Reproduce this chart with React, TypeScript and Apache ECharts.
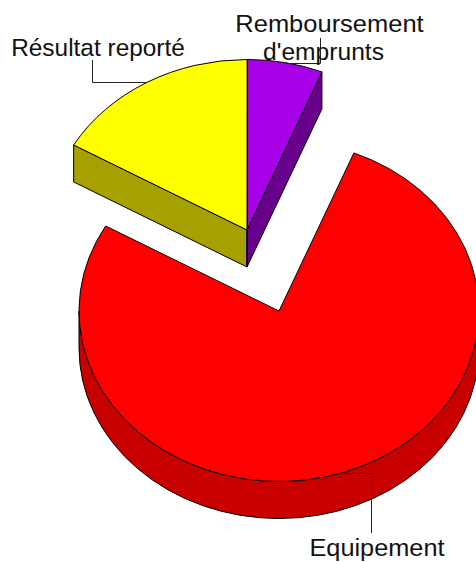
import React, { useEffect, useRef } from "react";
import * as echarts from "echarts";

const categories = ["Equipement", "Résultat reporté", "Remboursement\nd'emprunts"];
const values = [77.2, 16.7, 6.1];
const topColors = ["#ff0000", "#ffff00", "#a800e8"];
const sideColors = ["#c80000", "#a6a000", "#68008c"];

// Layout of the drawing (pixels)
const RX = 200;
const RY = 170.5;
const DEPTH = 37;
const START_ANGLE = 22; // degrees, clockwise from 12 o'clock; first slice starts here
const centres = [[279, 311], [247, 230], [247, 230]];
const leaders = [
  [[345, 473.5], [371.5, 473.5], [371.5, 533]],
  [[92.5, 60], [92.5, 82.5], [147, 82.5]],
  [[320.5, 38], [320.5, 63.5], [285, 63.5]],
];
const labelLines = [
  [{ x: 377, y: 560, sx: 1.055 }],
  [{ x: 98, y: 60, sx: 1.018 }],
  [{ x: 329.5, y: 36, sx: 1.062 }, { x: 323.5, y: 64, sx: 1.025 }],
];

const rad = (d: number) => (d * Math.PI) / 180;
const pt = (c: number[], a: number, dy = 0) => [
  c[0] + RX * Math.sin(rad(a)),
  c[1] - RY * Math.cos(rad(a)) + dy,
];
const arc = (c: number[], from: number, to: number, dy = 0) => {
  const [x, y] = pt(c, to, dy);
  const span = Math.abs(to - from);
  return `A${RX} ${RY} 0 ${span > 180 ? 1 : 0} ${to > from ? 1 : 0} ${x} ${y}`;
};

const spans = (() => {
  const total = values.reduce((a, b) => a + b, 0);
  let a = START_ANGLE;
  return values.map((v) => {
    const s = a;
    a += (v / total) * 360;
    return [s, a];
  });
})();

const style = (fill: string) => ({ fill, stroke: "#000", lineWidth: 1 });

function renderSlice(_: any, api: any) {
  const i = api.value(0) as number;
  const [a0, a1] = spans[i];
  const c = centres[i];
  const children: any[] = [];
  const wall = (d: string) =>
    children.push({ type: "path", shape: { pathData: d, layout: "none" } as any, style: style(sideColors[i]) });

  // Outer wall: visible only on the front half of the rim (90°..270°)
  const w0 = Math.max(a0, 90);
  const w1 = Math.min(a1, 270);
  if (w1 > w0) {
    const p = pt(c, w0);
    const q = pt(c, w1, DEPTH);
    wall(`M${p[0]} ${p[1]}${arc(c, w0, w1)}L${q[0]} ${q[1]}${arc(c, w1, w0, DEPTH)}Z`);
  }
  // Radial cut faces that look to the front
  [a0, a1].forEach((a) => {
    const n = ((a % 360) + 360) % 360;
    if (i !== 0) {
      const p = pt(c, n);
      const q = pt(c, n, DEPTH);
      wall(`M${c[0]} ${c[1]}L${p[0]} ${p[1]}L${q[0]} ${q[1]}L${c[0]} ${c[1] + DEPTH}Z`);
    }
  });
  // Top face
  const p = pt(c, a0);
  children.push({
    type: "path",
    shape: { pathData: `M${c[0]} ${c[1]}L${p[0]} ${p[1]}${arc(c, a0, a1)}Z` },
    style: style(topColors[i]),
  });
  return { type: "group", children };
}

export default function App() {
  const ref = useRef<HTMLDivElement>(null);
  useEffect(() => {
    document.body.style.margin = "0";
    const chart = echarts.init(ref.current!, null, { renderer: "svg" });
    const graphics: any[] = [];
    leaders.forEach((pts) =>
      graphics.push({
        type: "polyline",
        z: 10,
        shape: { points: pts },
        style: { fill: "none", stroke: "#222", lineWidth: 1 },
      })
    );
    categories.forEach((name, i) =>
      name.split("\n").forEach((line, j) =>
        graphics.push({
          type: "text",
          z: 11,
          x: labelLines[i][j].x,
          y: labelLines[i][j].y,
          scaleX: labelLines[i][j].sx,
          style: {
            text: line,
            fill: "#111",
            font: '24px "Liberation Sans", Arial, sans-serif',
            textAlign: "center",
            textVerticalAlign: "bottom",
          },
        })
      )
    );
    chart.setOption({
      animation: false,
      backgroundColor: "#fff",
      series: [
        {
          type: "custom",
          coordinateSystem: "none",
          clip: false,
          silent: true,
          data: [2, 1, 0].map((i) => ({ name: categories[i], value: [i, values[i]] })),
          renderItem: renderSlice,
        },
      ],
      graphic: graphics,
    });
    return () => chart.dispose();
  }, []);
  return <div ref={ref} style={{ width: 476, height: 562 }} />;
}
